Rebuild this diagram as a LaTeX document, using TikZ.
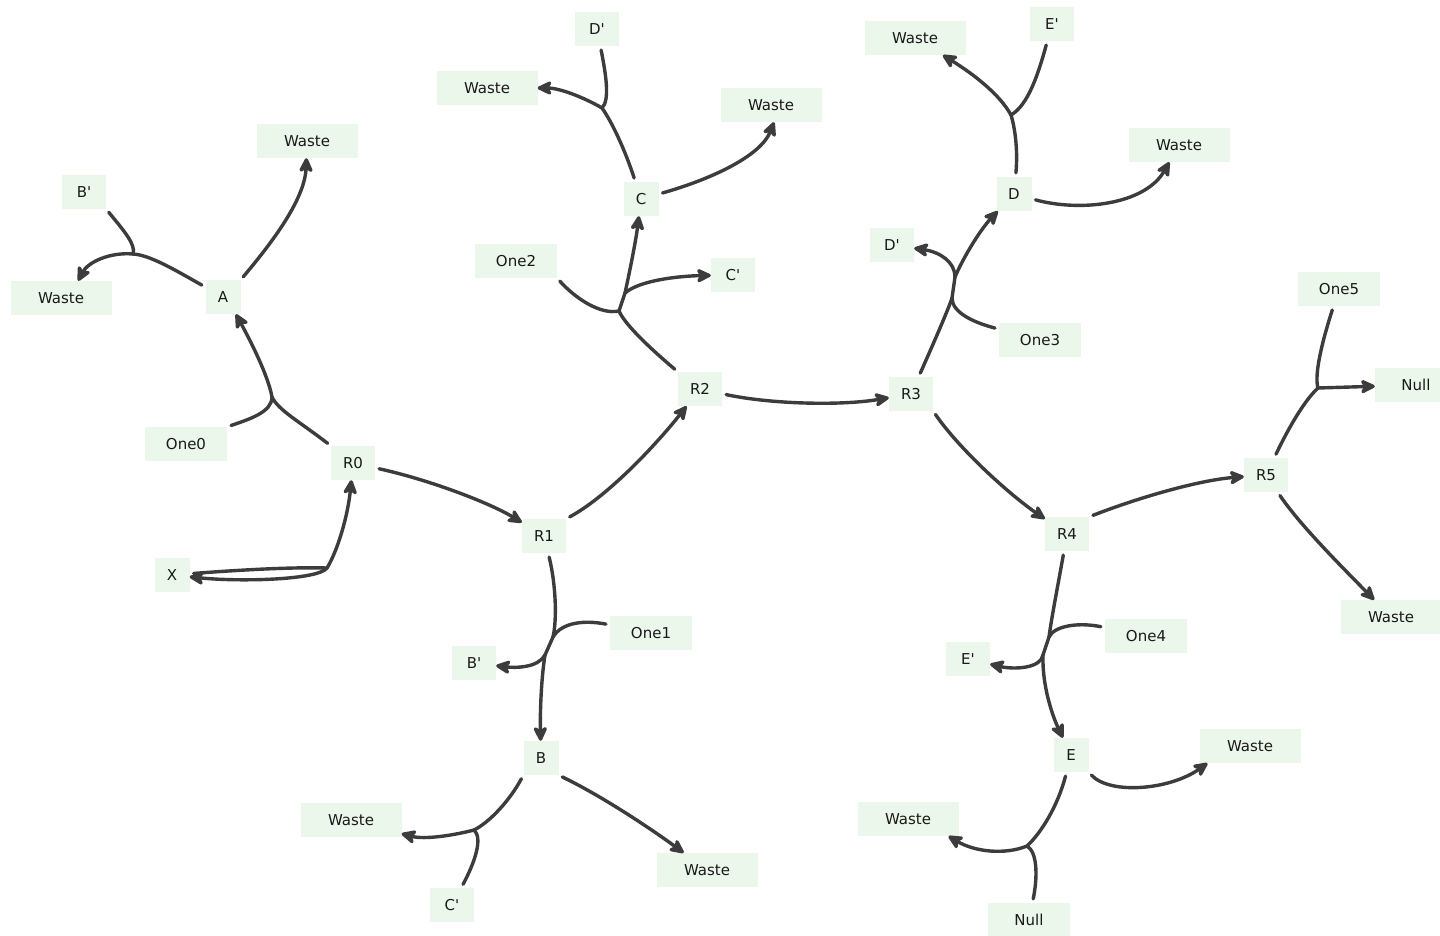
\documentclass[tikz,border=0pt]{standalone}
\usepackage{fontspec}
\setmainfont{DejaVu Sans}
\usetikzlibrary{arrows.meta}
\definecolor{boxfill}{RGB}{236,247,236}
\definecolor{linec}{RGB}{60,60,60}
\definecolor{txtc}{RGB}{25,25,25}
\newcommand{\prm}{\textquotesingle}
\begin{document}
\begin{tikzpicture}[x=1pt,y=-1pt,
  sp/.style={rectangle, fill=boxfill, inner sep=0pt, minimum height=34pt,
    font=\fontsize{15}{18}\selectfont, text=txtc},
  wa/.style={sp, minimum width=35pt},
  wb/.style={sp, minimum width=44pt},
  wc/.style={sp, minimum width=82pt},
  wd/.style={sp, minimum width=101pt},
  ln/.style={draw=linec, line width=3.4pt, line cap=round},
  ar/.style={ln, -{Stealth[length=18pt,width=17pt,inset=5pt,round]}},
  fn/.style={shorten <=4pt}
]
\useasboundingbox (0,0) rectangle (1440,936);
\fill[white] (0,0) rectangle (1440,936);
\clip (0,0) rectangle (1440,936);

% nodes
\node[wb] (Bp1) at (84,192) {B\prm};
\node[wd] (W1) at (61,298) {Waste};
\node[wd] (W2) at (307,141) {Waste};
\node[wa] (A) at (223,297) {A};
\node[wc] (One0) at (186,444) {One0};
\node[wb] (R0) at (353,463) {R0};
\node[wa] (X) at (172,575) {X};
\node[wb] (R1) at (544,536) {R1};
\node[wb] (R2) at (700,389) {R2};
\node[wa] (C) at (641,199) {C};
\node[wc] (One2) at (516,261) {One2};
\node[wb] (Cp1) at (733,275) {C\prm};
\node[wb] (Dp1) at (597,29) {D\prm};
\node[wd] (W3) at (487,88) {Waste};
\node[wd] (W4) at (771,105) {Waste};
\node[wb] (R3) at (911,394) {R3};
\node[wa] (D) at (1014,194) {D};
\node[wb] (Dp2) at (892,245) {D\prm};
\node[wc] (One3) at (1040,340) {One3};
\node[wd] (W5) at (915,38) {Waste};
\node[wb] (Ep1) at (1052,24) {E\prm};
\node[wd] (W6) at (1179,145) {Waste};
\node[wc] (One5) at (1339,289) {One5};
\node[wc] (Null1) at (1416,385) {Null};
\node[wb] (R5) at (1266,475) {R5};
\node[wd] (W7) at (1391,617) {Waste};
\node[wb] (R4) at (1067,534) {R4};
\node[wc] (One4) at (1146,636) {One4};
\node[wb] (Ep2) at (968,659) {E\prm};
\node[wa] (E) at (1071,755) {E};
\node[wd] (W8) at (1250,746) {Waste};
\node[wd] (W9) at (908,819) {Waste};
\node[wc] (Null2) at (1029,920) {Null};
\node[wb] (Bp2) at (474,663) {B\prm};
\node[wc] (One1) at (651,633) {One1};
\node[wa] (B) at (541,758) {B};
\node[wd] (W10) at (351,820) {Waste};
\node[wd] (W11) at (707,870) {Waste};
\node[wb] (Cp2) at (452,905) {C\prm};

% junctions
\coordinate (jA) at (272,397);
\coordinate (jB) at (133,254);
\coordinate (jX) at (327,568);
\coordinate (j1a) at (553,637);
\coordinate (j1b) at (545,655);
\coordinate (jB2) at (474,830);
\coordinate (j2a) at (619,311);
\coordinate (j2b) at (625,293);
\coordinate (jC) at (602,108);
\coordinate (j3a) at (952,298);
\coordinate (j3b) at (955,277);
\coordinate (jD) at (1011,115);
\coordinate (jR5) at (1318,388);
\coordinate (j4a) at (1049,637);
\coordinate (j4b) at (1043,655);
\coordinate (jE) at (1027,846);

% One0 + R0 -> A
\draw[ln,fn] (One0.north east) .. controls (250,419) and (272,412) .. (jA);
\draw[ln,fn] (R0.north west) .. controls (300,422) and (278,410) .. (jA);
\draw[ar] (jA) .. controls (268,375) and (250,340) .. (A.307);
% A + B' -> Waste
\draw[ln,fn] (A) .. controls (175,270) and (150,255) .. (jB);
\draw[ln,fn] (Bp1.south east) .. controls (125,232) and (136,245) .. (jB);
\draw[ar] (jB) .. controls (110,252) and (88,262) .. (W1.45);
% A -> Waste
\draw[ar,fn] (A.north east) .. controls (270,245) and (305,200) .. (W2);
% X -> X + R0
\draw[ln,fn] (X) .. controls (240,570) and (290,567) .. (jX);
\draw[ar] (jX) .. controls (318,580) and (240,582) .. (X);
\draw[ar] (jX) .. controls (338,550) and (348,515) .. (R0);
% R0 -> R1
\draw[ar,fn] (R0) .. controls (430,480) and (490,503) .. (R1);
% R1 -> R2
\draw[ar,fn] (R1.north east) .. controls (610,495) and (660,440) .. (R2);
% R1 + One1 -> B' + B
\draw[ln,fn] (R1) .. controls (556,585) and (557,620) .. (j1a);
\draw[ln,fn] (One1) .. controls (585,620) and (562,622) .. (j1a);
\draw[ln] (j1a) -- (j1b);
\draw[ar] (j1b) .. controls (538,668) and (515,668) .. (Bp2);
\draw[ar] (j1b) .. controls (541,680) and (540,715) .. (B);
% B -> Waste
\draw[ar,fn] (B.south east) .. controls (600,795) and (650,828) .. (W11);
% B + C' -> Waste
\draw[ln,fn] (B.south west) .. controls (510,800) and (490,822) .. (jB2);
\draw[ln,fn] (Cp2) .. controls (475,862) and (483,838) .. (jB2);
\draw[ar] (jB2) .. controls (455,835) and (425,840) .. (W10);
% R2 + One2 -> C + C'
\draw[ln,fn] (R2.north west) .. controls (652,350) and (625,325) .. (j2a);
\draw[ln,fn] (One2.south east) .. controls (575,298) and (600,315) .. (j2a);
\draw[ln] (j2a) -- (j2b);
\draw[ar] (j2b) .. controls (640,280) and (680,276) .. (Cp1);
\draw[ar] (j2b) .. controls (630,270) and (636,240) .. (C);
% R2 -> R3
\draw[ar,fn] (R2) .. controls (770,404) and (840,406) .. (R3);
% C + D' -> Waste
\draw[ln,fn] (C) .. controls (625,150) and (612,122) .. (jC);
\draw[ln,fn] (Dp1) .. controls (606,75) and (610,100) .. (jC);
\draw[ar] (jC) .. controls (585,98) and (560,88) .. (W3);
% C -> Waste
\draw[ar,fn] (C) .. controls (705,181) and (760,158) .. (W4.280);
% R3 + One3 -> D' + D
\draw[ln,fn] (R3) .. controls (935,340) and (948,310) .. (j3a);
\draw[ln,fn] (One3) .. controls (972,322) and (952,312) .. (j3a);
\draw[ln] (j3a) -- (j3b);
\draw[ar] (j3b) .. controls (955,262) and (940,252) .. (Dp2);
\draw[ar] (j3b) .. controls (963,258) and (980,230) .. (D);
% D + E' -> Waste
\draw[ln,fn] (D) .. controls (1018,150) and (1015,128) .. (jD);
\draw[ln,fn] (Ep1) .. controls (1038,75) and (1028,105) .. (jD);
\draw[ar] (jD) .. controls (1000,95) and (975,75) .. (W5);
% D -> Waste
\draw[ar,fn] (D) .. controls (1080,212) and (1145,205) .. (W6);
% R3 -> R4
\draw[ar,fn] (R3.south east) .. controls (960,450) and (1010,495) .. (R4);
% R4 -> R5
\draw[ar,fn] (R4.north east) .. controls (1140,497) and (1200,480) .. (R5);
% R5 + One5 -> Null
\draw[ln,fn] (R5) .. controls (1290,425) and (1305,400) .. (jR5);
\draw[ln,fn] (One5) .. controls (1322,342) and (1314,375) .. (jR5);
\draw[ar] (jR5) -- (Null1);
% R5 -> Waste
\draw[ar,fn] (R5) .. controls (1300,525) and (1340,565) .. (W7);
% R4 + One4 -> E' + E
\draw[ln,fn] (R4) .. controls (1058,585) and (1052,615) .. (j4a);
\draw[ln,fn] (One4) .. controls (1078,622) and (1054,626) .. (j4a);
\draw[ln] (j4a) -- (j4b);
\draw[ar] (j4b) .. controls (1041,668) and (1015,670) .. (Ep2);
\draw[ar] (j4b) .. controls (1042,685) and (1052,715) .. (E);
% E -> Waste
\draw[ar,fn] (E.south east) .. controls (1110,795) and (1170,790) .. (W8.202);
% E + Null -> Waste
\draw[ln,fn] (E) .. controls (1058,805) and (1042,832) .. (jE);
\draw[ln,fn] (Null2) .. controls (1038,875) and (1037,852) .. (jE);
\draw[ar] (jE) .. controls (1005,855) and (975,852) .. (W9.337);
\end{tikzpicture}
\end{document}
